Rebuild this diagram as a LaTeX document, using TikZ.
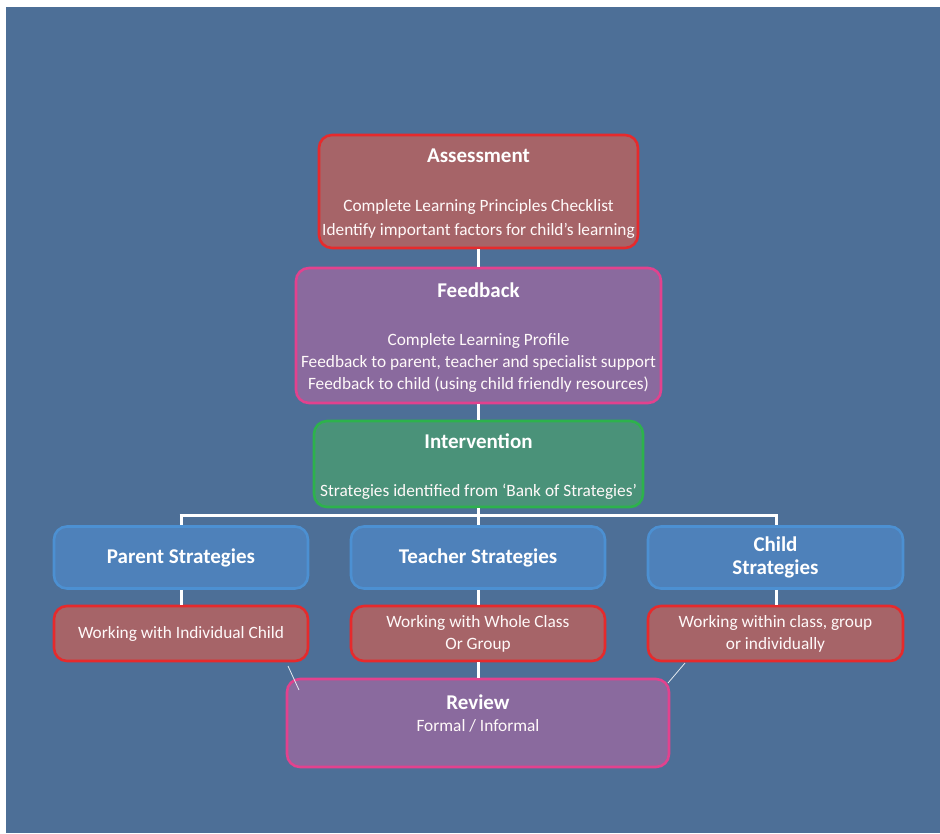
\documentclass[tikz,border=0pt]{standalone}
\usepackage{fontspec}
\setmainfont{Carlito}
\begin{document}
\begin{tikzpicture}[x=1pt,y=-1pt,
  boxbase/.style={draw, line width=2.6pt, rounded corners=13pt, text=white, align=center, inner sep=0pt},
  redbox/.style={boxbase, draw=redline, fill=redfill},
  purplebox/.style={boxbase, draw=pinkline, fill=purplefill},
  greenbox/.style={boxbase, draw=greenline, fill=greenfill},
  bluebox/.style={boxbase, draw=blueline, fill=bluefill},
  conn/.style={draw=white, line width=3pt},
  thin/.style={draw=white!85!bgblue, line width=0.8pt},
  ttl/.style={font=\fontsize{21}{25}\selectfont\bfseries},
  bdy/.style={font=\fontsize{17.3}{22}\selectfont, text=white!90!pink}
]
\definecolor{bgblue}{HTML}{4D6F97}
\definecolor{redfill}{HTML}{A66468}
\definecolor{redline}{HTML}{E62A2C}
\definecolor{purplefill}{HTML}{8A6A9E}
\definecolor{pinkline}{HTML}{E2428E}
\definecolor{greenfill}{HTML}{4A9279}
\definecolor{greenline}{HTML}{2DB24C}
\definecolor{bluefill}{HTML}{4E81BA}
\definecolor{blueline}{HTML}{4C90D2}
\useasboundingbox (0,0) rectangle (940,833);
\fill[white] (0,0) rectangle (940,833);
\fill[bgblue] (6,7) rectangle (940,833);

% boxes
\node[redbox, minimum width=319pt, minimum height=113pt] (assess) at (478.5,191.5) {};
\node[ttl, text=white] (assessT) at (478.5,156) {Assessment};
\node[bdy, align=center] (assessB) at (478.5,219) {Complete Learning Principles Checklist\\[2pt]Identify important factors for child’s learning};

\node[purplebox, minimum width=365pt, minimum height=135pt] (feed) at (478.5,335.5) {};
\node[ttl, text=white] (feedT) at (478.5,290) {Feedback};
\node[bdy, align=center] (feedB) at (478.5,363) {Complete Learning Profile\\Feedback to parent, teacher and specialist support\\Feedback to child (using child friendly resources)};

\node[greenbox, minimum width=329pt, minimum height=86pt] (interv) at (478.5,464) {};
\node[ttl, text=white] (intervT) at (478.5,441) {Intervention};
\node[bdy] (intervB) at (478.5,492) {Strategies identified from ‘Bank of Strategies’};

\node[bluebox, minimum width=254pt, minimum height=62pt, ttl] (parent) at (181,557.5) {Parent Strategies};
\node[bluebox, minimum width=254pt, minimum height=62pt, ttl] (teacher) at (478,557.5) {Teacher Strategies};
\node[bluebox, minimum width=255pt, minimum height=62pt, ttl, align=center] (child) at (775.5,557.5) {\raisebox{-2pt}{Child}\\Strategies};

\node[redbox, minimum width=254pt, minimum height=55pt, bdy] (parentW) at (181,633.5) {\raisebox{-2pt}{Working with Individual Child}};
\node[redbox, minimum width=254pt, minimum height=55pt, bdy, align=center] (teacherW) at (478,633.5) {\raisebox{-2pt}{Working with Whole Class}\\\raisebox{-2pt}{Or Group}};
\node[redbox, minimum width=255pt, minimum height=55pt, bdy, align=center] (childW) at (775.5,633.5) {\raisebox{-2pt}{Working within class, group}\\\raisebox{-2pt}{or individually}};

\node[purplebox, minimum width=382pt, minimum height=88pt] (review) at (478,723) {};
\node[ttl, text=white] (reviewT) at (478,702) {Review};
\node[bdy] (reviewB) at (478,726) {Formal / Informal};

% connectors
\coordinate (hl) at (181,515.5);
\coordinate (hm) at (478,515.5);
\coordinate (hr) at (776,515.5);
\draw[conn] (assess.south -| 478,0) -- (feed.north -| 478,0);
\draw[conn] (feed.south -| 478,0) -- (interv.north -| 478,0);
\draw[conn] (interv.south -| 478,0) -- (hm);
\draw[conn] ([xshift=-1.5pt]hl) -- ([xshift=1.5pt]hr);
\draw[conn] (hl) -- (parent.north -| hl);
\draw[conn] (hm) -- (teacher.north);
\draw[conn] (hr) -- (child.north -| hr);
\draw[conn] (parent.south) -- (parentW.north);
\draw[conn] (teacher.south) -- (teacherW.north);
\draw[conn] (child.south -| hr) -- (childW.north -| hr);
\draw[conn] (teacherW.south) -- (review.north);
\coordinate (dl1) at (288,666);
\coordinate (dl2) at (299,690);
\coordinate (dr1) at (685,663);
\coordinate (dr2) at (668,683);
\draw[thin] (dl1) -- (dl2);
\draw[thin] (dr1) -- (dr2);
\end{tikzpicture}
\end{document}
